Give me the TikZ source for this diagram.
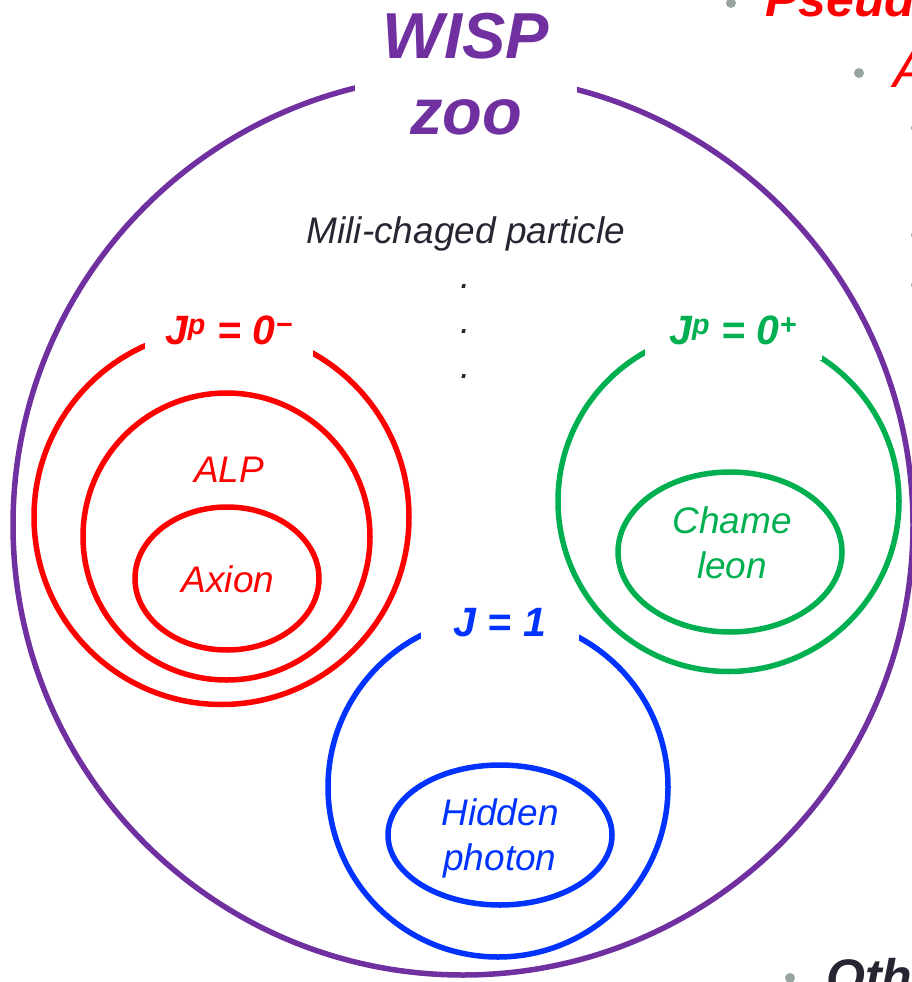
\documentclass[tikz,border=0pt]{standalone}
\usepackage{fontspec}
\setmainfont{Liberation Sans}
\usetikzlibrary{shapes.geometric}
\definecolor{wispviolet}{HTML}{7030A0}
\definecolor{pseudored}{HTML}{FF0000}
\definecolor{scalargreen}{HTML}{00B050}
\definecolor{vectorblue}{HTML}{0033FF}
\definecolor{inkgrey}{HTML}{262633}
\definecolor{bulletgrey}{HTML}{98A59F}
\begin{document}
\begin{tikzpicture}[x=1pt, y=-1pt,
  ring/.style={draw, circle, line width=5.5pt, inner sep=0pt},
  blob/.style={draw, ellipse, line width=5.5pt, inner sep=0pt},
  spin/.style={fill=white, inner sep=0pt, minimum height=60pt, anchor=base, font=\bfseries\itshape\fontsize{41}{44}\selectfont},
  kind/.style={align=center, inner sep=0pt, font=\itshape\fontsize{37}{45}\selectfont},
  slide/.style={anchor=base west, inner sep=0pt, font=\bfseries\itshape\fontsize{50}{60}\selectfont},
  dot/.style={circle, fill=bulletgrey, inner sep=0pt, minimum size=10pt}]
  \useasboundingbox (0,0) rectangle (912,982);
  \node[ring, draw=wispviolet, minimum size=900pt] (zoo) at (463,525) {};
  \node[ring, draw=pseudored, minimum size=375pt] (pseudo) at (221.5,517) {};
  \node[ring, draw=pseudored, minimum size=287pt] (alp) at (226.5,536.5) {};
  \node[blob, draw=pseudored, minimum width=184pt, minimum height=143pt] (axion) at (227,578.5) {};
  \node[ring, draw=scalargreen, minimum size=341pt] (scalar) at (728.5,501) {};
  \node[blob, draw=scalargreen, minimum width=224pt, minimum height=160pt] (chameleon) at (730,552) {};
  \node[ring, draw=vectorblue, minimum size=340pt] (vector) at (498,787) {};
  \node[blob, draw=vectorblue, minimum width=224pt, minimum height=140pt] (hidden) at (500,835) {};
  \node[fill=white, text=wispviolet, align=center, inner sep=0pt, minimum width=222pt, minimum height=150pt, font=\bfseries\itshape\fontsize{65}{76}\selectfont] (zoolabel) at (466,74) {WISP\\zoo};
  \node[spin, text=pseudored, minimum width=168pt] (pseudolabel) at (229,344) {J\textsuperscript{p} = 0\textsuperscript{−}};
  \node[spin, text=scalargreen, minimum width=177pt] (scalarlabel) at (733,344) {J\textsuperscript{p} = 0\textsuperscript{+}};
  \node[spin, text=vectorblue, minimum width=158pt, minimum height=50pt] (vectorlabel) at (500,636) {J = 1};
  \node[kind, text=inkgrey] (milli) at (466,298) {Mili-chaged particle\\.\\.\\.};
  \node[kind, text=pseudored, anchor=base] (alplabel) at (229,482) {ALP};
  \node[kind, text=pseudored, anchor=base] (axionlabel) at (228,592) {Axion};
  \node[kind, text=scalargreen] (chamlabel) at (732,543) {Chame\\leon};
  \node[kind, text=vectorblue] (hiddenlabel) at (500,838) {Hidden\\photon};
  \node[dot] (bulletone) at (731,3) {};
  \node[slide, text=pseudored] (pseud) at (765,17) {Pseud};
  \node[dot] (bullettwo) at (859,73) {};
  \node[slide, text=pseudored, font=\itshape\fontsize{53}{60}\selectfont] (aline) at (893,88) {A};
  \node[dot] (bulletthree) at (790,978) {};
  \node[slide, text=inkgrey] (oth) at (826,994) {Oth};
  \foreach \y in {128,235,285}
    \node[dot, minimum size=8pt] (sub\y) at (915,\y) {};
\end{tikzpicture}
\end{document}
